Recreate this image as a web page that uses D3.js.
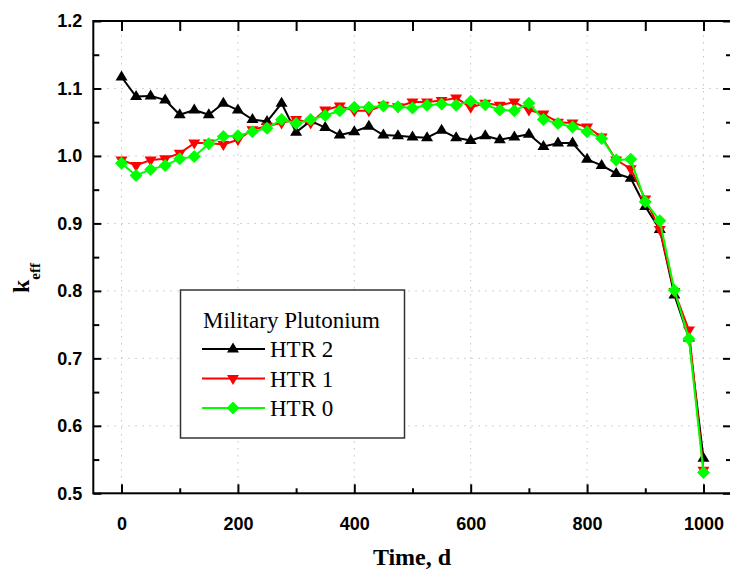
<!DOCTYPE html>
<html>
<head>
<meta charset="utf-8">
<script src="https://cdn.jsdelivr.net/npm/d3@7"></script>
<style>
  body { margin: 0; background: #fff; }
  .tick text { font-family: "Liberation Sans", Arial, sans-serif; font-weight: bold; font-size: 18px; fill: #000; }
  .domain { display: none; }
  .serif { font-family: "Liberation Serif", "Times New Roman", serif; fill: #000; }
</style>
</head>
<body>
<div id="chart"></div>
<script>
// time points, days
var days = [0, 25, 50, 75, 100, 125, 150, 175, 200, 225, 250, 275, 300, 325, 350, 375, 400,
  425, 450, 475, 500, 525, 550, 575, 600, 625, 650, 675, 700, 725, 750, 775, 800, 825, 850,
  875, 900, 925, 950, 975, 1000];

// k_eff for each core
var htr2 = [1.117, 1.088, 1.089, 1.083, 1.061, 1.068, 1.061, 1.078, 1.068, 1.054, 1.051, 1.078,
  1.035, 1.052, 1.042, 1.031, 1.036, 1.044, 1.031, 1.030, 1.028, 1.027, 1.038, 1.027, 1.023,
  1.030, 1.024, 1.028, 1.032, 1.014, 1.019, 1.019, 0.995, 0.986, 0.974, 0.967, 0.925, 0.891,
  0.794, 0.730, 0.552];
var htr1 = [0.994, 0.986, 0.994, 0.996, 1.004, 1.019, 1.019, 1.017, 1.024, 1.039, 1.044, 1.049,
  1.054, 1.049, 1.068, 1.074, 1.067, 1.067, 1.075, 1.073, 1.080, 1.080, 1.082, 1.086, 1.072,
  1.078, 1.075, 1.080, 1.068, 1.062, 1.050, 1.049, 1.043, 1.028, 0.994, 0.981, 0.936, 0.891,
  0.799, 0.742, 0.534];
var htr0 = [0.989, 0.971, 0.980, 0.986, 0.996, 0.999, 1.018, 1.029, 1.030, 1.036, 1.041, 1.054,
  1.048, 1.054, 1.060, 1.067, 1.072, 1.072, 1.074, 1.073, 1.071, 1.075, 1.077, 1.075, 1.081,
  1.076, 1.068, 1.067, 1.078, 1.054, 1.048, 1.043, 1.036, 1.026, 0.994, 0.995, 0.932, 0.904,
  0.801, 0.729, 0.531];

var seriesNames = ["HTR 2", "HTR 1", "HTR 0"];
var legendTitle = "Military Plutonium";

// tick values
var xMajor = [0, 200, 400, 600, 800, 1000];
var xMinor = [100, 300, 500, 700, 900];
var yMajor = [0.5, 0.6, 0.7, 0.8, 0.9, 1.0, 1.1, 1.2];
var yMinor = [0.55, 0.65, 0.75, 0.85, 0.95, 1.05, 1.15];

var margin = {top: 21, left: 93.3},
width = 731 - margin.left,
height = 493.3 - margin.top;

var x = d3.scaleLinear()
.domain([-48.5, 1047.3])
.range([0, width]);
var y = d3.scaleLinear()
.domain([0.5, 1.2])
.range([height, 0]);

var svg = d3.select("#chart").append("svg")
.attr("width", 730)
.attr("height", 569)
.append("g")
.attr("transform", "translate(" + margin.left + "," + margin.top + ")");

// dotted grid
svg.selectAll(".gx")
.data(xMajor)
.enter().append("line")
.attr("x1", function(d) { return x(d); })
.attr("x2", function(d) { return x(d); })
.attr("y1", 0).attr("y2", height)
.attr("stroke", "#c4c4c4").attr("stroke-width", 1)
.attr("stroke-dasharray", "1.5,5.5");
svg.selectAll(".gy")
.data(yMajor.slice(1, -1))
.enter().append("line")
.attr("y1", function(d) { return y(d); })
.attr("y2", function(d) { return y(d); })
.attr("x1", 0).attr("x2", width)
.attr("stroke", "#c4c4c4").attr("stroke-width", 1)
.attr("stroke-dasharray", "1.5,5.5");

// axes, ticks pointing inward
function styleTicks(g) {
    g.selectAll(".tick line").attr("stroke", "#000").attr("stroke-width", 2);
}

svg.append("g")
.attr("transform", "translate(0," + height + ")")
.call(d3.axisBottom(x).tickValues(xMajor).tickSize(-9).tickPadding(24).tickFormat(d3.format("d")))
.call(styleTicks);
svg.append("g")
.attr("transform", "translate(0," + height + ")")
.call(d3.axisBottom(x).tickValues(xMinor).tickSize(-5).tickFormat(""))
.call(styleTicks);
svg.append("g")
.call(d3.axisTop(x).tickValues(xMajor.concat(xMinor)).tickSize(-10).tickFormat(""))
.call(styleTicks);

svg.append("g")
.call(d3.axisLeft(y).tickValues(yMajor).tickSize(-8).tickPadding(11).tickFormat(d3.format(".1f")))
.call(styleTicks);
svg.append("g")
.call(d3.axisLeft(y).tickValues(yMinor).tickSize(-6).tickFormat(""))
.call(styleTicks);
svg.append("g")
.attr("transform", "translate(" + width + ",0)")
.call(d3.axisRight(y).tickValues(yMajor).tickSize(-8).tickFormat(""))
.call(styleTicks);
svg.append("g")
.attr("transform", "translate(" + width + ",0)")
.call(d3.axisRight(y).tickValues(yMinor).tickSize(-5).tickFormat(""))
.call(styleTicks);

// frame
svg.append("rect")
.attr("width", width).attr("height", height)
.attr("fill", "none").attr("stroke", "#000").attr("stroke-width", 2);

// markers
var triUp = "M0,-6.5L6,3.5L-6,3.5Z";
var triDown = "M0,6.5L6,-3.5L-6,-3.5Z";
var diamond = "M0,-6.5L6.5,0L0,6.5L-6.5,0Z";

var series = [
    {name: seriesNames[0], values: htr2, color: "#000000", marker: triUp},
    {name: seriesNames[1], values: htr1, color: "#ff0000", marker: triDown},
    {name: seriesNames[2], values: htr0, color: "#00ff00", marker: diamond}
];

var line = d3.line()
.x(function(d, i) { return x(days[i]); })
.y(function(d) { return y(d); });

series.forEach(function(s) {
    svg.append("path")
    .datum(s.values)
    .attr("d", line)
    .attr("fill", "none")
    .attr("stroke", s.color)
    .attr("stroke-width", 2)
    .attr("stroke-linejoin", "round");

    svg.selectAll(null)
    .data(s.values)
    .enter().append("path")
    .attr("d", s.marker)
    .attr("transform", function(d, i) { return "translate(" + x(days[i]) + "," + y(d) + ")"; })
    .attr("fill", s.color);
});

// axis titles
var root = d3.select("#chart svg");
root.append("text")
.attr("class", "serif")
.attr("x", 412).attr("y", 565)
.attr("text-anchor", "middle")
.style("font-weight", "bold").style("font-size", "24px")
.text("Time, d");

var yl = root.append("text")
.attr("class", "serif")
.attr("transform", "translate(29,293) rotate(-90)")
.style("font-weight", "bold").style("font-size", "24px");
yl.append("tspan").text("k");
yl.append("tspan").attr("dy", 11).style("font-size", "15px").text("eff");

// legend
var lg = root.append("g");
lg.append("rect")
.attr("x", 180.5).attr("y", 290)
.attr("width", 224).attr("height", 148)
.attr("fill", "#fff").attr("stroke", "#333").attr("stroke-width", 1.5);
lg.append("text")
.attr("class", "serif")
.attr("x", 203).attr("y", 328)
.style("font-size", "23px")
.text(legendTitle);

series.forEach(function(s, i) {
    var ly = 349 + i * 29.5;
    lg.append("line")
    .attr("x1", 202).attr("x2", 265)
    .attr("y1", ly).attr("y2", ly)
    .attr("stroke", s.color).attr("stroke-width", 2);
    lg.append("path")
    .attr("d", s.marker)
    .attr("transform", "translate(233," + ly + ")")
    .attr("fill", s.color);
    lg.append("text")
    .attr("class", "serif")
    .attr("x", 270).attr("y", ly + 8)
    .style("font-size", "23px")
    .text(s.name);
});
</script>
</body>
</html>
